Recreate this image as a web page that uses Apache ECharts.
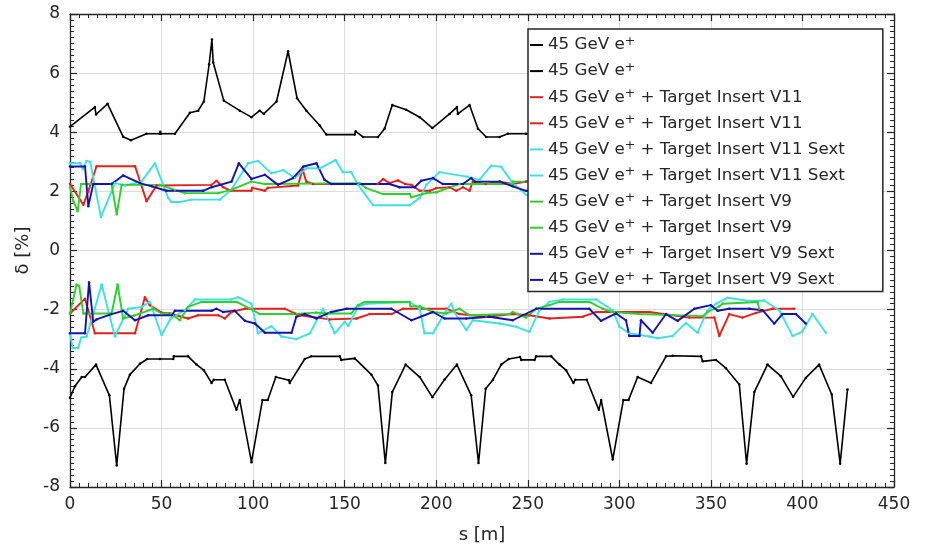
<!DOCTYPE html>
<html><head><meta charset="utf-8">
<script src="https://cdn.jsdelivr.net/npm/echarts@6/dist/echarts.min.js"></script>
<style>html,body{margin:0;padding:0;background:#fff}#c{width:929px;height:549px}</style>
</head><body><div id="c"></div>
<script>
// ---- data (s [m], delta [%]) ----
const xTicks = [0, 50, 100, 150, 200, 250, 300, 350, 400, 450];
const yTicks = [-8, -6, -4, -2, 0, 2, 4, 6, 8];

const blackUp = [[0,4.19],[13.6,4.85],[14.2,4.6],[20.5,4.96],[29,3.85],[33.3,3.73],[41.8,3.95],[49,3.95],[49.3,4.02],[49.6,3.95],[57.3,3.95],[65.5,4.66],[70,4.73],[73.1,5.04],[76,6.3],[77.5,7.14],[78.2,6.36],[84,5.07],[92.7,4.73],[99.1,4.51],[103.6,4.73],[105.8,4.62],[112.8,5.04],[119.1,6.74],[124,5.15],[129.1,4.73],[136.4,4.23],[140,3.92],[155.5,3.92],[156,4.03],[160,3.84],[168.2,3.84],[171.8,4.12],[176,4.92],[183.6,4.76],[191,4.51],[197.9,4.14],[207.3,4.62],[211.3,4.85],[211.8,4.62],[218.2,4.92],[222.8,4.12],[227.3,3.84],[234.6,3.84],[239.1,3.95],[249,3.95],[256,3.95]];
const blackLow = [[0,-4.98],[2.7,-4.59],[6.4,-4.28],[8.2,-4.28],[14.2,-3.86],[21.5,-4.9],[25.5,-7.27],[29.5,-4.68],[32.7,-4.2],[38.2,-3.83],[42.2,-3.67],[49.1,-3.67],[56.4,-3.67],[56.7,-3.58],[64.5,-3.58],[69.1,-3.86],[73.1,-4.05],[77.3,-4.48],[78.5,-4.37],[84.5,-4.37],[90.9,-5.39],[92.7,-5.06],[99.1,-7.16],[105.1,-5.06],[108,-5.06],[112.4,-4.28],[119.6,-4.39],[120,-4.48],[128.2,-3.67],[131.8,-3.58],[147.3,-3.58],[148.2,-3.7],[155.5,-3.65],[164.6,-4.2],[168.2,-4.57],[172.2,-7.19],[176,-4.79],[183.3,-3.86],[191,-4.28],[197.9,-4.96],[204.5,-4.37],[211.3,-3.86],[219.1,-4.9],[223.1,-7.19],[227,-4.68],[231,-4.37],[235.5,-3.86],[239.6,-3.67],[245.8,-3.6],[246.4,-3.7],[253.7,-3.7],[254.6,-3.58],[262.8,-3.58],[267.3,-3.86],[270.9,-4.05],[274.9,-4.48],[276,-4.37],[282.2,-4.37],[288.8,-5.39],[290.1,-5.06],[296.4,-7.07],[302.2,-5.06],[305,-5.06],[310,-4.28],[317.3,-4.48],[325.5,-3.58],[329.1,-3.56],[344.6,-3.58],[345.5,-3.75],[352.8,-3.7],[358.2,-3.98],[365.5,-4.53],[369.5,-7.21],[373.7,-4.79],[380.9,-3.86],[388.2,-4.25],[394.9,-4.95],[401.8,-4.31],[409.1,-3.86],[416,-4.87],[420.6,-7.21],[424.6,-4.7]];

const redUp = [[0,2.25],[7.3,1.55],[10,2.0],[14.5,2.85],[35.5,2.85],[41.8,1.67],[47.3,2.2],[77.3,2.22],[80,2.36],[83.6,2.14],[88,2.02],[99,2.02],[99.5,2.12],[106.4,2.02],[108,2.12],[124.5,2.2],[127,2.75],[129,2.33],[132.7,2.25],[168,2.25],[171,2.42],[174.5,2.28],[179,2.37],[183,2.25],[186.4,2.22],[191,2.02],[196.4,2.02],[200,2.11],[207.3,2.14],[211,2.02],[214.6,2.14],[218.2,2.02],[220,2.33],[227,2.25],[234.6,2.33],[242,2.25],[249,2.33],[256,2.3]];
const redLow = [[0,-2.13],[8.2,-1.63],[13.6,-2.8],[35.5,-2.8],[40.9,-1.58],[43.6,-1.85],[50,-2.1],[54.5,-2.13],[64.5,-2.3],[70,-2.19],[81,-2.19],[84.5,-2.3],[88.2,-2.08],[95.5,-1.97],[117.3,-1.97],[122.7,-2.13],[125.5,-2.19],[141.8,-2.33],[156.4,-2.3],[163.6,-2.15],[175.5,-2.15],[181.8,-1.97],[205.5,-1.97],[212.7,-2.15],[227.3,-2.24],[241.8,-2.15],[251,-2.19],[261.8,-2.3],[280,-2.24],[287.3,-2.08],[316.4,-2.08],[338.2,-2.27],[351.9,-2.27],[354.6,-2.89],[360,-2.15],[367.3,-2.27],[374.6,-2.11],[383.7,-1.97],[395.5,-1.97]];

const cyanUp = [[0,2.95],[5.5,2.95],[7,2.75],[9,3.03],[11,3.0],[16.9,1.13],[24.5,2.28],[30,2.2],[39,2.33],[46.4,2.95],[53.6,1.78],[55.5,1.64],[60,1.64],[66.4,1.72],[81.8,1.72],[88,2.05],[97.3,2.95],[102.7,3.03],[110,2.61],[116.4,2.72],[122.7,2.45],[129,2.78],[136.4,2.78],[145,3.06],[149,2.65],[153.6,2.65],[157.3,2.22],[165.5,1.53],[185.5,1.53],[191,1.78],[194.6,2.22],[201.8,2.65],[216.4,2.5],[223.6,2.39],[230,2.87],[235.5,2.83],[241.8,2.28],[249,1.89],[256,1.85]];
const cyanLow = [[0,-2.8],[1.5,-3.3],[4.5,-3.3],[6,-2.95],[9.1,-2.91],[17.3,-1.15],[24.5,-2.91],[31.8,-1.97],[39.1,-1.91],[43.6,-1.74],[50,-2.86],[55,-2.3],[62.7,-2.02],[68.2,-1.66],[88,-1.66],[91.8,-1.58],[99.1,-1.8],[102.7,-2.8],[110,-2.56],[115.5,-2.91],[123.6,-3.0],[131,-2.8],[138.2,-1.97],[144.6,-2.8],[150,-2.41],[152,-2.55],[157.3,-1.91],[161.8,-1.8],[185.5,-1.74],[191,-1.97],[193.6,-2.8],[198.2,-2.8],[205.5,-2.02],[208.2,-1.8],[210,-2.1],[216.4,-2.69],[220,-2.36],[234.6,-2.47],[243.7,-2.58],[250.9,-2.75],[256.4,-2.02],[261.8,-1.74],[269,-1.66],[287.3,-1.66],[296.4,-2.02],[300,-2.58],[305.5,-2.8],[316.4,-2.91],[321,-2.97],[329.1,-2.89],[336.4,-2.45],[342.7,-2.78],[348.2,-2.02],[352.8,-1.8],[359.1,-1.6],[371,-1.71],[379.1,-1.69],[387.3,-2.02],[394.6,-2.89],[399.8,-2.75],[405.5,-2.15],[412.8,-2.78]];

const greenUp = [[0,2.14],[1.8,1.67],[4.2,1.33],[6,2.25],[22.7,2.25],[25.5,1.22],[28.2,2.22],[49,2.22],[57.3,2.05],[62.7,1.94],[81,1.94],[88,2.05],[99,2.33],[106.4,2.25],[158,2.28],[161.8,2.11],[171,1.91],[185.5,1.91],[186.4,1.8],[194.6,1.94],[200,1.97],[212.7,2.25],[241.8,2.25],[242,2.33],[256,2.33]];
const greenLow = [[0,-2.13],[3.6,-1.15],[5,-1.2],[7.3,-2.13],[22.7,-2.13],[26,-1.15],[29,-2.3],[35,-2.2],[45.5,-1.97],[50,-2.13],[55,-2.13],[60,-2.36],[64.5,-1.91],[71.8,-1.74],[91,-1.74],[100,-2.02],[103.6,-2.15],[121.8,-2.15],[134.6,-2.1],[141.8,-2.13],[153.6,-2.13],[157.3,-1.85],[161,-1.74],[185.5,-1.74],[186,-1.89],[191,-1.89],[198.2,-2.08],[205.5,-2.13],[212.7,-1.97],[218.2,-2.19],[240,-2.15],[241.8,-2.08],[249,-2.27],[254.6,-1.97],[261.8,-1.85],[267.3,-1.74],[283.6,-1.74],[291,-1.97],[296.4,-2.08],[311,-2.15],[345.5,-2.22],[348.2,-2.08],[354.6,-1.89],[356.4,-1.8],[375.5,-1.74],[376.4,-1.97]];

const blueUp = [[0,2.84],[8.2,2.84],[10,1.5],[12.7,2.25],[22.7,2.25],[29,2.54],[38.2,2.28],[44.6,2.17],[52.7,2.02],[72.7,2.02],[77.3,2.14],[88.2,2.33],[92.2,2.95],[99.1,2.42],[106.4,2.56],[113.6,2.22],[121.8,2.45],[127.5,2.84],[134.6,2.95],[139,2.39],[142.7,2.25],[174.5,2.25],[180,2.14],[188.2,2.14],[191.8,2.36],[198.2,2.45],[203.6,2.25],[214.6,2.25],[219.1,2.45],[221,2.33],[234.6,2.33],[241.8,2.17],[249,2.02],[256,1.98]];
const blueLow = [[0,-2.8],[8.2,-2.8],[10.4,-1.07],[12.7,-2.41],[14.5,-2.33],[22.7,-2.15],[29,-2.04],[35.5,-2.36],[42.7,-2.19],[55.5,-2.19],[57.3,-2.04],[77.3,-2.04],[80,-1.97],[83.6,-2.08],[90,-2.04],[95.5,-2.38],[101,-2.47],[106.4,-2.78],[121,-2.78],[123.6,-2.24],[128.2,-2.15],[134.6,-2.3],[142.7,-2.08],[151,-1.97],[175.5,-1.97],[186.4,-2.36],[198.2,-2.08],[204.6,-2.3],[216.4,-2.3],[229,-2.24],[241.8,-2.36],[254.6,-1.97],[283.6,-1.97],[290,-2.38],[298.2,-2.13],[303.6,-2.36],[305.5,-2.89],[311,-2.89],[311.8,-2.36],[318.2,-2.78],[325.5,-2.15],[331.8,-2.38],[341,-1.97],[350,-1.85],[353.7,-2.04],[360,-1.97],[371,-1.97],[378.2,-2.02],[384.6,-2.47],[389.1,-2.15],[396.4,-2.15],[401.8,-2.47]];

const legendSuffix = ['', '', ' + Target Insert V11', ' + Target Insert V11', ' + Target Insert V11 Sext', ' + Target Insert V11 Sext', ' + Target Insert V9', ' + Target Insert V9', ' + Target Insert V9 Sext', ' + Target Insert V9 Sext'];
const seriesData = [blackUp, blackLow, redUp, redLow, cyanUp, cyanLow, greenUp, greenLow, blueUp, blueLow];
const colors = ['#000000', '#000000', '#e3211c', '#e3211c', '#3fe0e0', '#3fe0e0', '#2fcf2f', '#2fcf2f', '#1414a8', '#1414a8'];

const FONT = 'DejaVu Sans';
const names = seriesData.map((d, i) => 'S' + i);

const chart = echarts.init(document.getElementById('c'), null, {renderer: 'canvas'});
const axisCommon = {
  axisLine: {show: true, onZero: false, lineStyle: {color: '#262626', width: 1.3}},
  axisTick: {show: true, inside: true, length: 7, lineStyle: {color: '#262626', width: 1.2}},
  minorTick: {show: true, splitNumber: 10, length: 4, lineStyle: {color: '#262626', width: 1}},
};
chart.setOption({
  animation: false,
  backgroundColor: '#ffffff',
  textStyle: {fontFamily: FONT},
  grid: {left: 70, right: 35, top: 14, bottom: 57, show: false},
  xAxis: [
    Object.assign({}, axisCommon, {
      type: 'value', position: 'bottom', min: xTicks[0], max: xTicks[xTicks.length - 1], interval: 50,
      axisLabel: {show: true, fontSize: 17, color: '#262626', margin: 9, fontFamily: FONT},
      splitLine: {show: true, lineStyle: {color: '#dcdcdc', width: 1}},
      name: 's [m]', nameLocation: 'middle', nameGap: 39,
      nameTextStyle: {fontSize: 18, color: '#262626', fontFamily: FONT}
    }),
    Object.assign({}, axisCommon, {
      type: 'value', position: 'top', min: xTicks[0], max: xTicks[xTicks.length - 1], interval: 50,
      axisLabel: {show: false}, splitLine: {show: false}
    })
  ],
  yAxis: [
    Object.assign({}, axisCommon, {
      type: 'value', position: 'left', min: yTicks[0], max: yTicks[yTicks.length - 1], interval: 2,
      axisLabel: {show: true, fontSize: 17, color: '#262626', margin: 10, fontFamily: FONT},
      splitLine: {show: true, lineStyle: {color: '#dcdcdc', width: 1}},
      name: 'δ [%]', nameLocation: 'middle', nameGap: 35, nameRotate: 90,
      nameTextStyle: {fontSize: 18, color: '#262626', fontFamily: FONT}
    }),
    Object.assign({}, axisCommon, {
      type: 'value', position: 'right', min: yTicks[0], max: yTicks[yTicks.length - 1], interval: 2,
      axisLabel: {show: false}, splitLine: {show: false}
    })
  ],
  legend: {
    orient: 'vertical', left: 528, top: 29,
    data: names,
    selectedMode: false,
    backgroundColor: '#ffffff',
    borderColor: '#262626', borderWidth: 1.5,
    padding: [6, 38, 3, 2],
    itemGap: 7.6, itemWidth: 13, itemHeight: 2,
    icon: 'rect',
    formatter: function (n) {
      const i = +n.slice(1);
      return '{t|45 GeV e}{s|+}{t|' + legendSuffix[i] + '}';
    },
    textStyle: {
      fontFamily: FONT, color: '#262626',
      rich: {
        t: {fontSize: 16.7, lineHeight: 20, fontFamily: FONT, color: '#262626'},
        s: {fontSize: 12.5, lineHeight: 20, verticalAlign: 'top', fontFamily: FONT, color: '#262626'}
      }
    }
  },
  series: seriesData.map((d, i) => ({
    name: names[i], type: 'line', data: d,
    xAxisIndex: 0, yAxisIndex: 0,
    showSymbol: true, symbol: 'circle', symbolSize: 2.5,
    itemStyle: {color: colors[i]},
    lineStyle: {color: colors[i], width: i < 2 ? 1.6 : 1.9},
    emphasis: {disabled: true}, z: 2
  }))
});
</script></body></html>
